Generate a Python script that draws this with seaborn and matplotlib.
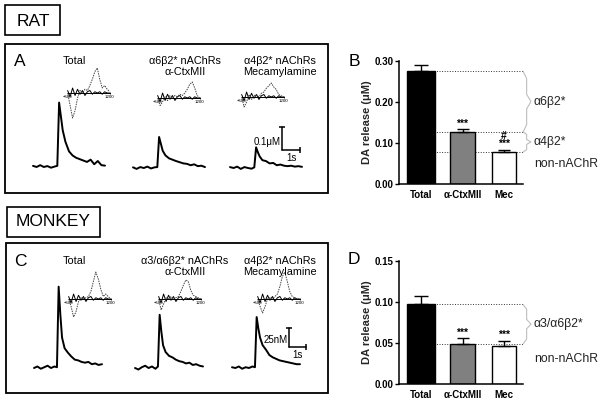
import matplotlib
matplotlib.use("Agg")
import matplotlib.pyplot as plt
import numpy as np
import pandas as pd
import seaborn as sns
from matplotlib.patches import Rectangle
from matplotlib.ticker import FormatStrFormatter

# ---- data ----
TRACE_T = [0, 0.2, 0.4, 0.6, 0.8, 1.0, 1.2, 1.35, 1.45, 1.55, 1.65, 1.8, 2.0,
           2.2, 2.4, 2.6, 2.8, 3.0, 3.2, 3.4, 3.6, 3.8, 4.0]

RAT_TOTAL_UM = [0.005, 0.0, 0.008, 0.0, 0.004, -0.003, 0.002, 0.005, 0.28, 0.22, 0.16, 0.11,
                0.068, 0.05, 0.04, 0.034, 0.028, 0.022, 0.032, 0.012, 0.026, 0.008, 0.006]
RAT_CTX_UM = [0.003, -0.004, 0.004, 0.0, 0.006, -0.002, 0.003, 0.004, 0.135, 0.105, 0.075, 0.055,
              0.042, 0.036, 0.03, 0.025, 0.02, 0.018, 0.012, 0.016, 0.008, 0.01, 0.004]
RAT_MEC_UM = [0.004, 0.0, 0.006, -0.004, 0.004, 0.0, -0.003, 0.003, 0.09, 0.068, 0.05, 0.034,
              0.03, 0.02, 0.022, 0.012, 0.015, 0.01, 0.008, 0.01, 0.006, 0.008, 0.005]

MONKEY_TOTAL_NM = [0, 2, -1, 1, 3, 0, 2, 1, 107, 70, 40, 26, 20, 15, 11, 10, 8, 7, 8, 5, 6, 4, 5]
MONKEY_CTX_NM = [0, -2, 1, 3, 0, 2, -1, 2, 70, 48, 30, 21, 16, 14, 11, 9, 8, 6, 7, 4, 5, 3, 2]
MONKEY_MEC_NM = [1, 0, 2, -1, 1, 0, 2, 1, 67, 52, 40, 30, 24, 17, 14, 12, 10, 9, 8, 7, 6, 5, 5]

CV_MV = [-500, -400, -300, -200, -100, 0, 100, 200, 300, 400, 500, 600, 700, 800, 900, 1000, 1100, 1200]
RAT_TOTAL_CV = [0.0, -0.5, -1.0, -0.7, -0.2, 0.1, 0.0, 0.15, 0.1, 0.3, 0.55, 0.85, 1.0, 0.55, 0.2, 0.3, 0.15, 0.05]
RAT_CTX_CV = [0.0, -0.3, -0.15, 0.05, -0.1, 0.1, 0.0, 0.1, 0.05, 0.15, 0.1, 0.2, 0.35, 0.55, 0.64, 0.4, 0.1, 0.0]
RAT_MEC_CV = [0.0, -0.4, -0.2, 0.1, -0.1, 0.05, 0.1, 0.0, 0.15, 0.2, 0.35, 0.45, 0.56, 0.4, 0.3, 0.1, 0.05, 0.0]
MONKEY_TOTAL_CV = [0.0, -0.3, -0.72, -0.5, -0.1, 0.05, 0.0, 0.05, 0.1, 0.3, 0.7, 1.08, 0.8, 0.4, 0.1, 0.2, 0.1, 0.0]
MONKEY_CTX_CV = [0.0, -0.44, -0.2, 0.05, 0.0, 0.1, 0.0, 0.05, 0.1, 0.3, 0.55, 0.76, 0.7, 0.35, 0.15, 0.1, 0.05, 0.0]
MONKEY_MEC_CV = [0.0, -0.3, -0.56, -0.3, 0.0, 0.05, 0.0, 0.1, 0.2, 0.5, 0.9, 1.08, 0.7, 0.3, 0.1, 0.05, 0.0, 0.0]
CV_NOISE = [0.1, -0.15, 0.2, -0.1, 0.15, -0.05, 0.1, -0.1, 0.05, 0.1, -0.05, 0.05, 0.0, 0.05, -0.05, 0.05, 0.0, 0.0]

BAR_LABELS = ["Total", "α-CtxMII", "Mec"]
RAT_DA = [0.275, 0.127, 0.078]
RAT_SEM = [0.015, 0.007, 0.006]
RAT_SIG = ["", "***", "#\n***"]
RAT_FRACTIONS = ["α6β2*", "α4β2*", "non-nAChR"]
MONKEY_DA = [0.097, 0.049, 0.046]
MONKEY_SEM = [0.010, 0.007, 0.007]
MONKEY_SIG = ["", "***", "***"]
MONKEY_FRACTIONS = ["α3/α6β2*", "non-nAChR"]

RAT_TITLES = ["Total", "α6β2* nAChRs\nα-CtxMII", "α4β2* nAChRs\nMecamylamine"]
MONKEY_TITLES = ["Total", "α3/α6β2* nAChRs\nα-CtxMII", "α4β2* nAChRs\nMecamylamine"]

# ---- layout / style ----
W, H = 600, 403
BAR_COLORS = ["black", "#808080", "white"]
BAR_WIDTHS = [0.68, 0.58, 0.58]
BAR_OX, BAR_SX = 421, 41.5
BAR_XLIM = (-0.53, 2.46)
INSET_SX, INSET_SY = 42 / 1700, 25

sns.set_theme(style="ticks")
plt.rcParams["font.family"] = ["Liberation Sans", "DejaVu Sans"]
plt.rcParams["axes.edgecolor"] = "black"
plt.rcParams["xtick.color"] = "black"
plt.rcParams["ytick.color"] = "black"
plt.rcParams["text.color"] = "black"


def px_rect(x0, y0, x1, y1):
    return [x0 / W, 1 - y1 / H, (x1 - x0) / W, (y1 - y0) / H]


def data_rect(ox, oy, sx, sy, xlim, ylim):
    # axes rect so that data (0, 0) lands on pixel (ox, oy)
    return px_rect(ox + xlim[0] * sx, oy - ylim[1] * sy, ox + xlim[1] * sx, oy - ylim[0] * sy)


def ftext(fig, x, y, s, **kw):
    kw.setdefault("ha", "center")
    kw.setdefault("va", "center")
    fig.text(x / W, 1 - y / H, s, **kw)


def frame(fig, x0, y0, x1, y1, lw=1.2):
    fig.add_artist(Rectangle((x0 / W, 1 - y1 / H), (x1 - x0) / W, (y1 - y0) / H,
                             transform=fig.transFigure, fill=False, lw=lw, ec="black"))


def trace_axes(fig, ox, oy, sx, sy, ylim, values):
    ax = fig.add_axes(data_rect(ox, oy, sx, sy, (-0.1, 4.5), ylim))
    sns.lineplot(x=TRACE_T, y=values, ax=ax, color="black", linewidth=1.4)
    ax.set_xlim(-0.1, 4.5)
    ax.set_ylim(*ylim)
    ax.axis("off")
    return ax


def cv_inset(fig, ox, oy, cv):
    ax = fig.add_axes(data_rect(ox, oy, INSET_SX, INSET_SY, (-650, 1350), (-1.2, 1.2)))
    ax.set_facecolor("none")
    sns.lineplot(x=CV_MV, y=CV_NOISE, ax=ax, color="black", linewidth=0.7)
    sns.lineplot(x=CV_MV, y=cv, ax=ax, color="#444444", linewidth=0.7, linestyle=(0, (1.5, 1)))
    ax.set_xlim(-650, 1350)
    ax.set_ylim(-1.2, 1.2)
    for side in ["left", "top", "right"]:
        ax.spines[side].set_visible(False)
    ax.spines["bottom"].set_position(("data", 0))
    ax.spines["bottom"].set_bounds(-500, 1200)
    ax.spines["bottom"].set_linewidth(0.7)
    ax.set_yticks([])
    ax.set_xticks([-500, 1200])
    ax.tick_params(axis="x", labelsize=3.2, length=1.5, width=0.5, pad=0.5, direction="inout")
    return ax


def trace_panel(fig, top, traces, cvs, titles, sx, sy, ylim, trace_origins, inset_origins,
                scale_t0, scale_y0, scale_amp, scale_text):
    ax = None
    for vals, (ox, oy) in zip(traces, trace_origins):
        ax = trace_axes(fig, ox, oy, sx, sy, ylim, vals)
    for cv, (ox, oy) in zip(cvs, inset_origins):
        cv_inset(fig, ox, oy, cv)
    for title, x in zip(titles, [74, 185, 280]):
        ftext(fig, x, top + 12, title, fontsize=7.8, va="top", linespacing=1.1)
    # scale bar in the last trace's data units
    ax.plot([scale_t0, scale_t0], [scale_y0, scale_y0 + scale_amp], color="black", lw=1.1, clip_on=False)
    ax.plot([scale_t0, scale_t0 + 1], [scale_y0, scale_y0], color="black", lw=1.1, clip_on=False)
    ax.plot([scale_t0], [scale_y0 + scale_amp], marker="_", ms=4, mew=1.1, color="black", clip_on=False)
    ax.plot([scale_t0 + 1], [scale_y0], marker="|", ms=4, mew=1.1, color="black", clip_on=False)
    ax.annotate(scale_text, (scale_t0, scale_y0 + 0.35 * scale_amp), xytext=(-1, 0),
                textcoords="offset points", ha="right", va="center", fontsize=7)
    ax.annotate("1s", (scale_t0 + 0.5, scale_y0), xytext=(0, -2), textcoords="offset points",
                ha="center", va="top", fontsize=7)


def draw_brace(ax, x, y_lo, y_hi, w):
    mid = (y_lo + y_hi) / 2
    d = 0.12 * (y_hi - y_lo)
    xs = [x, x + w * 0.45, x + w * 0.45, x + w, x + w * 0.45, x + w * 0.45, x]
    ys = [y_hi, y_hi - d, mid + d, mid, mid - d, y_lo + d, y_lo]
    ax.plot(xs, ys, color="#bdbdbd", lw=0.8, clip_on=False)


def bar_panel(fig, oy, sy, ylim, yticks, vals, sems, sig, levels, fractions):
    ax = fig.add_axes(data_rect(BAR_OX, oy, BAR_SX, sy, BAR_XLIM, ylim))
    df = pd.DataFrame({"treatment": BAR_LABELS, "da": vals})
    sns.barplot(data=df, x="treatment", y="da", hue="treatment", palette=BAR_COLORS,
                saturation=1, edgecolor="black", linewidth=1.0, width=0.58,
                legend=False, ax=ax, zorder=2)
    for patch, w in zip(ax.patches, BAR_WIDTHS):
        c = patch.get_x() + patch.get_width() / 2
        patch.set_width(w)
        patch.set_x(c - w / 2)
    for i, (v, e, w) in enumerate(zip(vals, sems, BAR_WIDTHS)):
        ax.errorbar([i], [v], yerr=[[0], [e]], fmt="none", ecolor="black", elinewidth=1.0,
                    capsize=w * 7.3, capthick=1.0, zorder=3)
        if sig[i]:
            ax.annotate(sig[i], (i, v + e), xytext=(0, 0.5), textcoords="offset points",
                        ha="center", va="bottom", fontsize=7.5, fontweight="bold", linespacing=0.75)
    # reference levels and subtype braces
    for lv in levels:
        ax.hlines(lv, 0, BAR_XLIM[1], colors="#333333", linestyles=":", lw=0.7, zorder=0.5, clip_on=False)
    bounds = list(levels) + [0]
    for k, name in enumerate(fractions):
        hi, lo = bounds[k], bounds[k + 1]
        if k < len(levels) - 1:
            draw_brace(ax, BAR_XLIM[1], lo, hi, 0.19)
            ymid = (hi + lo) / 2
        else:
            ymid = hi * 0.62
        ax.text(2.72, ymid, name, ha="left", va="center", fontsize=8.8, color="#222222")
    ax.set_xlim(*BAR_XLIM)
    ax.set_ylim(*ylim)
    ax.set_yticks(yticks)
    ax.yaxis.set_major_formatter(FormatStrFormatter("%.2f"))
    ax.tick_params(axis="y", labelsize=7, length=3, width=1.0, pad=1)
    ax.tick_params(axis="x", labelsize=7, length=0, pad=4)
    for lbl in ax.get_yticklabels() + ax.get_xticklabels():
        lbl.set_fontweight("bold")
    ax.set_xlabel("")
    ax.set_ylabel("DA release (μM)", fontsize=8, fontweight="bold", labelpad=2)
    sns.despine(ax=ax)
    ax.spines["left"].set_linewidth(1.1)
    ax.spines["bottom"].set_linewidth(1.1)
    ax.set_facecolor("none")
    return ax


fig = plt.figure(figsize=(6, 4.03), dpi=100)

# species tags and panel frames
frame(fig, 5, 5, 60, 35)
ftext(fig, 33, 21, "RAT", fontsize=12.5)
frame(fig, 7, 207, 100, 237)
ftext(fig, 53, 222, "MONKEY", fontsize=12.5)
frame(fig, 5, 44, 328, 193, lw=1.3)
frame(fig, 6, 243, 328, 393, lw=1.3)
ftext(fig, 20, 62, "A", fontsize=12.5)
ftext(fig, 20, 261, "C", fontsize=12.5)
ftext(fig, 354, 62, "B", fontsize=12.5)
ftext(fig, 354, 260, "D", fontsize=12.5)

trace_panel(fig, 44, [RAT_TOTAL_UM, RAT_CTX_UM, RAT_MEC_UM],
            [RAT_TOTAL_CV, RAT_CTX_CV, RAT_MEC_CV], RAT_TITLES,
            sx=18, sy=230, ylim=(-0.03, 0.30),
            trace_origins=[(33, 167), (133, 168), (230, 168)],
            inset_origins=[(80, 93), (170, 98), (254, 97)],
            scale_t0=2.89, scale_y0=0.078, scale_amp=0.1, scale_text="0.1μM")

trace_panel(fig, 244, [MONKEY_TOTAL_NM, MONKEY_CTX_NM, MONKEY_MEC_NM],
            [MONKEY_TOTAL_CV, MONKEY_CTX_CV, MONKEY_MEC_CV], MONKEY_TITLES,
            sx=17, sy=0.76, ylim=(-5, 115),
            trace_origins=[(34, 368), (135, 368), (232, 368)],
            inset_origins=[(81, 299), (171, 299), (270, 299)],
            scale_t0=3.35, scale_y0=27.6, scale_amp=25, scale_text="25nM")

bar_panel(fig, 184, 410, (0, 0.30), [0, 0.1, 0.2, 0.3], RAT_DA, RAT_SEM, RAT_SIG,
          RAT_DA, RAT_FRACTIONS)
bar_panel(fig, 384, 820, (0, 0.15), [0, 0.05, 0.10, 0.15], MONKEY_DA, MONKEY_SEM, MONKEY_SIG,
          MONKEY_DA[:2], MONKEY_FRACTIONS)

fig.savefig("out.png", dpi=100)
plt.close(fig)
